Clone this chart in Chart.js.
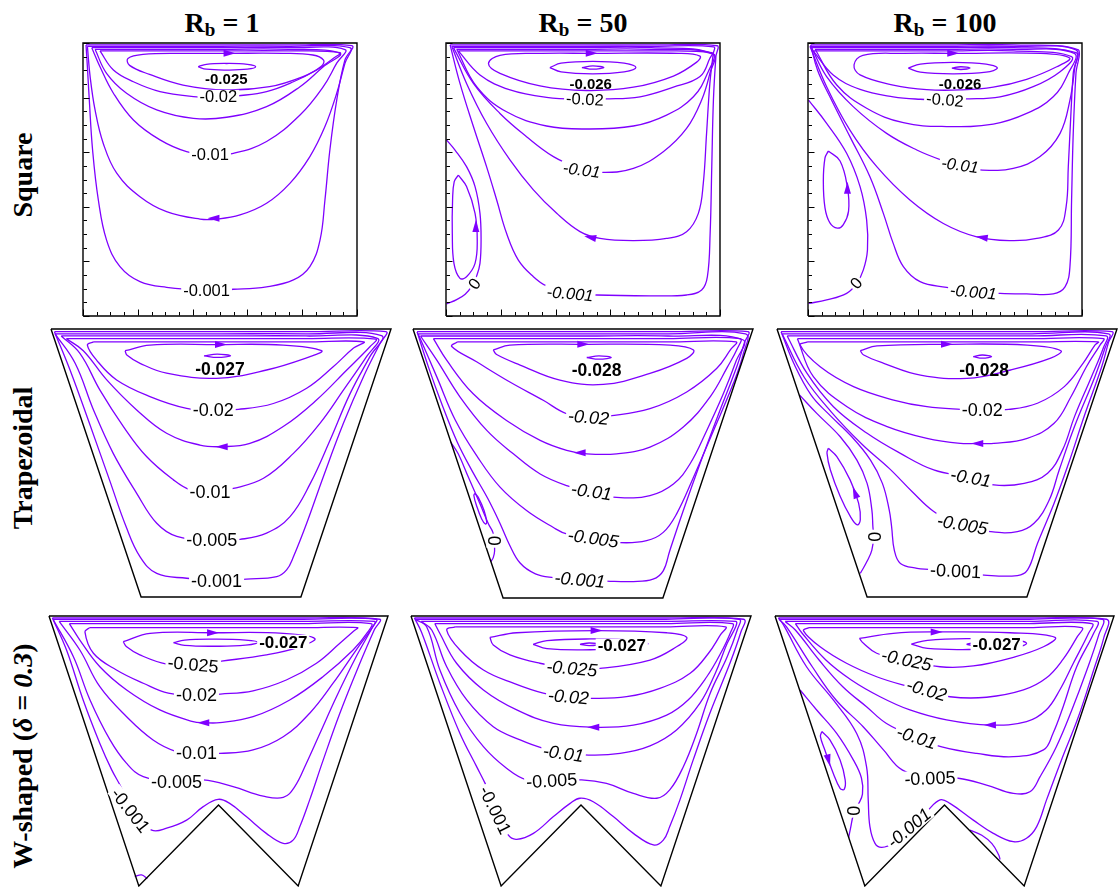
<!DOCTYPE html>
<html>
<head>
<meta charset="utf-8">
<script src="https://cdn.jsdelivr.net/npm/chart.js@4/dist/chart.umd.min.js"></script>
<style>
  html, body { margin: 0; padding: 0; background: #fff; overflow: hidden; }
  #fig { position: relative; width: 1120px; height: 887px; overflow: hidden; }
  .ttl { position: absolute; top: 9px; transform: translateX(-50%); font: bold 28px 'Liberation Serif', 'Times New Roman', serif; line-height: 28px; white-space: nowrap; color: #000; }
  .ttl span { font-size: 19px; position: relative; top: 4px; }
  .rl { position: absolute; left: 23px; font: bold 28px 'Liberation Serif', 'Times New Roman', serif; line-height: 28px; white-space: nowrap; transform: translate(-50%, -50%) rotate(-90deg); color: #000; }
</style>
</head>
<body>
<div id="fig">
  <div class="ttl" style="left:222px">R<span>b</span> = 1</div>
  <div class="ttl" style="left:583px">R<span>b</span> = 50</div>
  <div class="ttl" style="left:945px">R<span>b</span> = 100</div>
  <div class="rl" style="top:175px">Square</div>
  <div class="rl" style="top:458px">Trapezoidal</div>
  <div class="rl" style="top:756px">W-shaped (<i>δ</i> = <i>0.3</i>)</div>
</div>
<script>
// domain walls (normalised x, y with y up)
const squareWall = [[0,0],[1,0],[1,1],[0,1],[0,0]];
const trapWall = [[0,1],[1,1],[.735,0],[.265,0],[0,1]];
const wWall = [[0,1],[1,1],[.735,0],[.5,.3],[.265,0],[0,1]];
const tickMajor = [0, .2, .4, .6, .8, 1];
const tickMinor = [.05,.1,.15,.25,.3,.35,.45,.5,.55,.65,.7,.75,.85,.9,.95];

// ---- square, Rb = 1
const s1_001 = [[.011,.993],[.016,.913],[.023,.791],[.035,.608],[.056,.425],[.086,.278],[.135,.181],[.208,.126],[.305,.105],[.451,.095],[.549,.098],[.670,.107],[.768,.132],[.828,.181],[.865,.278],[.883,.425],[.901,.608],[.926,.791],[.956,.938],[.981,.99],[.75,.993],[.5,.993],[.25,.993],[.011,.993]];
const s1_005 = [[.016,.988],[.026,.877],[.044,.755],[.074,.632],[.123,.523],[.208,.437],[.305,.382],[.427,.355],[.488,.355],[.573,.370],[.670,.413],[.755,.486],[.828,.584],[.883,.694],[.926,.816],[.956,.926],[.974,.983],[.75,.988],[.5,.988],[.25,.988],[.016,.988]];
const s1_01 = [[.032,.983],[.062,.913],[.111,.816],[.184,.718],[.281,.645],[.378,.602],[.464,.590],[.549,.596],[.670,.639],[.792,.736],[.877,.840],[.926,.926],[.956,.976],[.75,.983],[.5,.983],[.25,.983],[.032,.983]];
const s1_015 = [[.044,.977],[.086,.889],[.159,.816],[.269,.755],[.403,.724],[.524,.728],[.670,.767],[.792,.840],[.877,.913],[.938,.962],[.75,.977],[.5,.977],[.25,.977],[.044,.977]];
const s1_02 = [[.062,.971],[.111,.901],[.184,.858],[.281,.822],[.415,.803],[.494,.8],[.563,.806],[.670,.822],[.768,.858],[.853,.901],[.914,.944],[.938,.965],[.75,.971],[.5,.971],[.25,.971],[.062,.971]];
const s1_023 = [[.523,.962],[.730,.962],[.839,.956],[.878,.937],[.870,.915],[.803,.877],[.681,.840],[.523,.828],[.365,.846],[.243,.885],[.170,.918],[.164,.943],[.219,.958],[.365,.962],[.523,.962]];
const s1_025 = [[.42,.913],[.45,.922],[.524,.925],[.6,.922],[.63,.913],[.6,.904],[.524,.901],[.45,.904],[.42,.913]];
const s1Labels = [['-0.025',.523,.867],['-0.02',.494,.803],['-0.01',.464,.590],['-0.001',.451,.095]];
const s1Arrows = [[.535,.962,1,0],[.476,.358,-1,0]];

// ---- square, Rb = 50
const s2_001 = [[.015,.993],[.051,.852],[.100,.694],[.148,.547],[.185,.425],[.221,.303],[.264,.205],[.319,.144],[.367,.110],[.453,.085],[.550,.077],[.745,.074],[.878,.077],[.933,.095],[.954,.144],[.964,.303],[.970,.547],[.976,.791],[.985,.950],[.990,.99],[.75,.993],[.5,.993],[.25,.993],[.015,.993]];
const s2_005 = [[.021,.988],[.075,.852],[.148,.706],[.234,.571],[.319,.462],[.404,.376],[.489,.309],[.562,.284],[.684,.276],[.805,.284],[.878,.309],[.921,.376],[.939,.486],[.951,.669],[.963,.852],[.975,.96],[.977,.986],[.75,.988],[.5,.988],[.25,.988],[.021,.988]];
const s2_01 = [[.027,.983],[.100,.852],[.197,.742],[.294,.657],[.392,.584],[.48,.545],[.562,.526],[.684,.541],[.793,.602],[.878,.687],[.933,.791],[.963,.889],[.975,.96],[.75,.983],[.5,.983],[.25,.983],[.027,.983]];
const s2_015 = [[.039,.977],[.112,.840],[.221,.748],[.367,.696],[.513,.685],[.684,.696],[.805,.736],[.903,.803],[.957,.895],[.972,.96],[.75,.977],[.5,.977],[.25,.977],[.039,.977]];
const s2_02 = [[.045,.971],[.124,.883],[.234,.828],[.367,.801],[.507,.794],[.577,.795],[.708,.803],[.830,.838],[.927,.877],[.963,.944],[.97,.965],[.75,.971],[.5,.971],[.25,.971],[.045,.971]];
const s2_023 = [[.532,.962],[.85,.962],[.927,.952],[.915,.93],[.830,.879],[.684,.838],[.513,.826],[.343,.843],[.197,.889],[.155,.925],[.197,.955],[.35,.962],[.532,.962]];
const s2_025 = [[.379,.910],[.42,.926],[.536,.933],[.65,.926],[.693,.910],[.65,.894],[.536,.887],[.42,.894],[.379,.910]];
const s2_026 = [[.496,.910],[.536,.916],[.576,.910],[.536,.904],[.496,.910]];
const s2_0 = [[.002,.645],[.033,.608],[.075,.547],[.106,.474],[.124,.376],[.128,.278],[.124,.193],[.112,.147],[.095,.110],[.070,.080],[.039,.060],[.002,.044]];
const s2_v = [[.045,.516],[.075,.474],[.106,.376],[.114,.278],[.106,.193],[.075,.144],[.051,.138],[.029,.193],[.023,.303],[.024,.425],[.030,.492],[.045,.516]];
const s2Labels = [['-0.026',.528,.849],['-0.02',.507,.794],['-0.01',.495,.535],['-0.001',.453,.082],['0',.104,.118]];
const s2Arrows = [[.532,.962,1,0],[.526,.288,-1,.2],[.109,.33,0,1]];

// ---- square, Rb = 100
const s3_001 = [[.010,.993],[.035,.9],[.080,.803],[.153,.657],[.226,.510],[.275,.376],[.311,.266],[.348,.181],[.409,.126],[.506,.105],[.603,.09],[.701,.083],[.798,.081],[.895,.081],[.938,.107],[.956,.181],[.962,.425],[.968,.669],[.978,.889],[.987,.975],[.75,.993],[.5,.993],[.25,.993],[.010,.993]];
const s3_005 = [[.007,.988],[.068,.840],[.153,.681],[.251,.547],[.372,.425],[.494,.339],[.616,.290],[.737,.276],[.835,.284],[.914,.315],[.942,.400],[.950,.547],[.959,.730],[.968,.889],[.978,.975],[.75,.988],[.5,.988],[.25,.988],[.007,.988]];
const s3_01 = [[.013,.983],[.068,.877],[.165,.767],[.287,.669],[.397,.608],[.488,.571],[.56,.55],[.628,.535],[.749,.541],[.847,.584],[.920,.669],[.956,.791],[.974,.913],[.978,.965],[.75,.983],[.5,.983],[.25,.983],[.013,.983]];
const s3_015 = [[.026,.977],[.105,.846],[.214,.761],[.348,.708],[.506,.694],[.676,.703],[.798,.742],[.895,.803],[.950,.889],[.972,.962],[.75,.977],[.5,.977],[.25,.977],[.026,.977]];
const s3_02 = [[.019,.971],[.092,.883],[.190,.830],[.311,.803],[.409,.794],[.5,.792],[.569,.795],[.701,.803],[.822,.840],[.920,.895],[.962,.95],[.75,.971],[.5,.971],[.25,.971],[.019,.971]];
const s3_023 = [[.530,.962],[.85,.962],[.955,.945],[.908,.913],[.798,.867],[.676,.838],[.555,.828],[.433,.829],[.311,.846],[.190,.883],[.168,.92],[.2,.955],[.35,.962],[.530,.962]];
const s3_025 = [[.366,.908],[.41,.923],[.529,.929],[.65,.923],[.691,.908],[.65,.893],[.529,.887],[.41,.893],[.366,.908]];
const s3_026 = [[.525,.908],[.558,.913],[.591,.908],[.558,.903],[.525,.908]];
const s3_0 = [[.002,.791],[.068,.706],[.141,.596],[.190,.474],[.214,.352],[.217,.242],[.202,.169],[.178,.12],[.141,.083],[.068,.059],[.002,.046]];
const s3_v = [[.074,.604],[.117,.568],[.144,.470],[.148,.384],[.129,.335],[.107,.322],[.080,.341],[.062,.396],[.056,.494],[.062,.579],[.074,.604]];
const s3Labels = [['-0.026',.555,.852],['-0.02',.5,.792],['-0.01',.555,.553],['-0.001',.603,.088],['0',.176,.12]];
const s3Arrows = [[.530,.962,1,0],[.634,.288,-1,.15],[.144,.47,0,1]];

// ---- trapezoidal, Rb = 1
const t1_001 = [[.01,.99],[.056,.847],[.113,.648],[.172,.437],[.221,.262],[.262,.150],[.311,.088],[.399,.07],[.487,.062],[.575,.067],[.664,.076],[.693,.101],[.713,.150],[.752,.275],[.801,.449],[.860,.648],[.919,.822],[.968,.947],[.985,.99],[.75,.99],[.5,.99],[.25,.99],[.01,.99]];
const t1_005 = [[.012,.982],[.071,.872],[.125,.698],[.183,.536],[.252,.387],[.311,.275],[.370,.226],[.477,.21],[.556,.215],[.634,.238],[.703,.300],[.762,.422],[.821,.586],[.879,.757],[.938,.897],[.972,.975],[.75,.982],[.5,.982],[.25,.982],[.012,.982]];
const t1_01 = [[.03,.974],[.085,.909],[.144,.772],[.213,.636],[.281,.524],[.360,.437],[.409,.400],[.468,.392],[.536,.405],[.625,.443],[.713,.536],[.791,.648],[.860,.772],[.928,.897],[.96,.965],[.75,.974],[.5,.974],[.25,.974],[.03,.974]];
const t1_015 = [[.045,.964],[.095,.919],[.164,.810],[.252,.698],[.340,.611],[.438,.567],[.502,.561],[.585,.573],[.683,.636],[.781,.735],[.870,.847],[.938,.934],[.955,.962],[.75,.964],[.5,.964],[.25,.964],[.045,.964]];
const t1_02 = [[.125,.952],[.107,.94],[.134,.884],[.193,.810],[.291,.748],[.399,.704],[.477,.698],[.551,.700],[.654,.722],[.752,.779],[.830,.859],[.889,.928],[.92,.952],[.75,.952],[.5,.952],[.25,.952],[.125,.952]];
const t1_025 = [[.218,.919],[.291,.94],[.487,.942],[.683,.94],[.796,.919],[.762,.897],[.634,.847],[.487,.816],[.340,.835],[.262,.872],[.223,.903],[.218,.919]];
const t1_027 = [[.45,.9],[.489,.906],[.528,.9],[.489,.894],[.45,.9]];
const t1Labels = [['-0.027',.497,.849],['-0.02',.477,.698],['-0.01',.468,.393],['-0.005',.473,.213],['-0.001',.487,.06]];
const t1Arrows = [[.5,.942,1,0],[.502,.561,-1,0]];

// ---- trapezoidal, Rb = 50
const t2_001 = [[.012,.99],[.045,.86],[.085,.72],[.13,.58],[.175,.47],[.22,.37],[.255,.28],[.283,.2],[.315,.13],[.36,.09],[.413,.076],[.491,.068],[.570,.063],[.648,.061],[.706,.070],[.736,.101],[.755,.175],[.795,.325],[.844,.499],[.903,.698],[.952,.859],[.975,.95],[.985,.99],[.75,.99],[.5,.99],[.25,.99],[.012,.99]];
const t2_005 = [[.015,.982],[.07,.822],[.125,.66],[.19,.524],[.256,.412],[.334,.325],[.413,.262],[.452,.238],[.53,.222],[.609,.206],[.687,.213],[.736,.244],[.775,.312],[.825,.449],[.884,.623],[.942,.797],[.972,.91],[.978,.982],[.75,.982],[.5,.982],[.25,.982],[.015,.982]];
const t2_01 = [[.022,.974],[.070,.884],[.138,.748],[.217,.623],[.295,.536],[.374,.461],[.452,.418],[.525,.395],[.599,.374],[.697,.381],[.766,.424],[.815,.499],[.864,.623],[.913,.760],[.950,.88],[.97,.96],[.75,.974],[.5,.974],[.25,.974],[.022,.974]];
const t2_015 = [[.06,.964],[.099,.884],[.177,.759],[.275,.660],[.374,.586],[.452,.549],[.511,.536],[.599,.536],[.697,.561],[.795,.636],[.874,.748],[.925,.859],[.955,.93],[.962,.964],[.75,.964],[.5,.964],[.25,.964],[.06,.964]];
const t2_02 = [[.13,.952],[.114,.935],[.187,.878],[.285,.803],[.383,.735],[.452,.685],[.516,.672],[.579,.677],[.697,.704],[.805,.766],[.893,.853],[.935,.925],[.95,.952],[.75,.952],[.5,.952],[.25,.952],[.13,.952]];
const t2_025 = [[.236,.922],[.285,.940],[.501,.943],[.756,.940],[.825,.922],[.805,.891],[.697,.835],[.560,.794],[.432,.810],[.315,.866],[.246,.905],[.236,.922]];
const t2_028 = [[.511,.894],[.547,.9],[.583,.894],[.547,.888],[.511,.894]];
const t2_0 = [[.111,.58],[.133,.536],[.163,.449],[.197,.350],[.222,.275],[.235,.244],[.238,.213],[.240,.175],[.236,.15],[.229,.135]];
const t2_v = [[.182,.389],[.192,.374],[.209,.325],[.217,.281],[.213,.275],[.202,.294],[.187,.343],[.179,.381],[.182,.389]];
const t2Labels = [['-0.028',.540,.847],['-0.02',.516,.672],['-0.01',.525,.396],['-0.005',.530,.222],['-0.001',.491,.068],['0',.238,.213]];
const t2Arrows = [[.501,.943,1,0],[.49,.54,-1,0]];

// ---- trapezoidal, Rb = 100
const t3_001 = [[.012,.99],[.05,.87],[.1,.754],[.15,.685],[.22,.598],[.275,.511],[.31,.424],[.33,.325],[.337,.263],[.345,.175],[.363,.125],[.412,.107],[.446,.103],[.525,.095],[.609,.082],[.707,.080],[.737,.101],[.766,.200],[.815,.35],[.858,.5],[.905,.68],[.955,.859],[.975,.95],[.985,.99],[.75,.99],[.5,.99],[.25,.99],[.012,.99]];
const t3_005 = [[.015,.982],[.08,.82],[.16,.69],[.25,.57],[.33,.48],[.40,.39],[.46,.32],[.53,.27],[.628,.244],[.707,.244],[.756,.275],[.80,.36],[.83,.474],[.875,.636],[.935,.822],[.965,.93],[.975,.982],[.75,.982],[.5,.982],[.25,.982],[.015,.982]];
const t3_01 = [[.03,.974],[.088,.835],[.166,.710],[.265,.611],[.363,.536],[.461,.474],[.569,.445],[.638,.418],[.727,.424],[.796,.462],[.84,.549],[.875,.673],[.925,.822],[.96,.93],[.968,.974],[.75,.974],[.5,.974],[.25,.974],[.03,.974]];
const t3_015 = [[.06,.964],[.107,.822],[.206,.710],[.324,.636],[.441,.592],[.540,.573],[.589,.573],[.638,.573],[.736,.592],[.815,.648],[.865,.748],[.91,.859],[.95,.94],[.96,.964],[.75,.964],[.5,.964],[.25,.964],[.06,.964]];
const t3_02 = [[.09,.952],[.068,.94],[.127,.859],[.225,.785],[.343,.735],[.441,.710],[.540,.700],[.604,.698],[.682,.700],[.766,.723],[.845,.785],[.9,.872],[.935,.94],[.945,.952],[.75,.952],[.5,.952],[.25,.952],[.09,.952]];
const t3_025 = [[.245,.919],[.294,.937],[.500,.943],[.736,.940],[.835,.919],[.805,.891],[.687,.847],[.559,.816],[.422,.828],[.314,.872],[.255,.903],[.245,.919]];
const t3_028 = [[.577,.897],[.604,.903],[.631,.897],[.604,.891],[.577,.897]];
const t3_0 = [[.066,.754],[.117,.685],[.186,.598],[.235,.511],[.265,.424],[.279,.325],[.282,.263],[.284,.225],[.279,.175],[.266,.136],[.245,.088]];
const t3_v = [[.151,.555],[.176,.524],[.215,.437],[.240,.350],[.245,.288],[.236,.269],[.216,.300],[.186,.375],[.157,.474],[.147,.537],[.151,.555]];
const t3Labels = [['-0.028',.609,.847],['-0.02',.604,.698],['-0.01',.57,.445],['-0.005',.545,.27],['-0.001',.525,.097],['0',.284,.225]];
const t3Arrows = [[.5,.943,1,0],[.589,.573,-1,0],[.229,.39,-.3,1]];

// ---- W-shaped, Rb = 1
const w1_001 = [[.01,.993],[.052,.873],[.101,.688],[.150,.528],[.185,.430],[.215,.36],[.245,.27],[.303,.207],[.347,.214],[.406,.244],[.455,.294],[.499,.321],[.533,.306],[.582,.257],[.641,.195],[.691,.158],[.720,.170],[.740,.220],[.769,.319],[.809,.467],[.858,.640],[.917,.825],[.96,.95],[.975,.988],[.75,.993],[.5,.993],[.25,.993],[.01,.993]];
const w1_005 = [[.012,.988],[.072,.849],[.121,.689],[.180,.541],[.229,.454],[.278,.405],[.376,.385],[.455,.393],[.543,.368],[.632,.333],[.691,.328],[.725,.368],[.759,.454],[.799,.565],[.848,.701],[.906,.849],[.955,.96],[.965,.988],[.75,.988],[.5,.988],[.25,.988],[.012,.988]];
const w1_01 = [[.03,.98],[.091,.874],[.150,.738],[.229,.627],[.307,.541],[.376,.498],[.435,.491],[.504,.491],[.602,.504],[.691,.553],[.769,.640],[.838,.751],[.906,.874],[.955,.96],[.96,.98],[.75,.98],[.5,.98],[.25,.98],[.03,.98]];
const w1_015 = [[.06,.972],[.091,.911],[.150,.812],[.229,.726],[.327,.652],[.425,.609],[.455,.605],[.504,.605],[.602,.627],[.710,.689],[.808,.775],[.897,.874],[.94,.94],[.95,.972],[.75,.972],[.5,.972],[.25,.972],[.06,.972]];
const w1_02 = [[.12,.957],[.106,.941],[.131,.862],[.199,.800],[.278,.751],[.352,.714],[.435,.707],[.506,.711],[.602,.723],[.700,.763],[.789,.825],[.858,.899],[.9,.945],[.91,.957],[.75,.957],[.5,.957],[.25,.957],[.12,.957]];
const w1_025 = [[.219,.905],[.298,.936],[.484,.938],[.691,.936],[.784,.917],[.740,.886],[.641,.856],[.509,.833],[.425,.82],[.347,.822],[.268,.856],[.229,.886],[.219,.905]];
const w1_027 = [[.367,.901],[.40,.911],[.492,.914],[.58,.911],[.617,.903],[.58,.892],[.492,.888],[.40,.891],[.367,.901]];
const w1_c = [[.253,.035],[.273,.041],[.290,.027]];
const w1Labels = [['-0.027',.691,.904],['-0.025',.425,.82],['-0.02',.435,.707],['-0.01',.435,.491],['-0.005',.376,.385],['-0.001',.24,.28]];
const w1Arrows = [[.484,.938,1,0],[.455,.605,-1,0]];

// ---- W-shaped, Rb = 50
const w2_001 = [[.01,.993],[.031,.94],[.085,.751],[.144,.565],[.193,.442],[.218,.380],[.25,.29],[.286,.189],[.311,.173],[.360,.195],[.419,.257],[.468,.306],[.497,.325],[.536,.312],[.595,.257],[.654,.195],[.713,.152],[.742,.170],[.761,.220],[.791,.319],[.830,.467],[.879,.640],[.938,.825],[.97,.94],[.978,.988],[.75,.993],[.5,.993],[.25,.993],[.01,.993]];
const w2_005 = [[.012,.988],[.046,.96],[.085,.800],[.144,.640],[.213,.516],[.281,.436],[.340,.393],[.414,.388],[.502,.393],[.575,.380],[.654,.343],[.723,.325],[.761,.356],[.801,.442],[.84,.565],[.88,.714],[.93,.849],[.96,.95],[.965,.988],[.75,.988],[.5,.988],[.25,.988],[.012,.988]];
const w2_01 = [[.03,.98],[.061,.948],[.105,.812],[.164,.689],[.242,.590],[.321,.541],[.389,.510],[.448,.497],[.522,.485],[.615,.491],[.703,.519],[.781,.578],[.850,.677],[.895,.788],[.93,.899],[.955,.96],[.955,.98],[.75,.98],[.5,.98],[.25,.98],[.03,.98]];
const w2_015 = [[.07,.972],[.085,.935],[.134,.825],[.213,.726],[.311,.652],[.419,.602],[.536,.588],[.654,.596],[.752,.633],[.815,.689],[.87,.775],[.91,.86],[.94,.94],[.945,.972],[.75,.972],[.5,.972],[.25,.972],[.07,.972]];
const w2_02 = [[.13,.96],[.105,.948],[.144,.874],[.213,.800],[.301,.751],[.389,.714],[.463,.70],[.531,.695],[.634,.701],[.732,.732],[.821,.788],[.875,.862],[.91,.93],[.925,.96],[.75,.96],[.5,.96],[.25,.96],[.13,.96]];
const w2_025 = [[.232,.921],[.311,.938],[.546,.946],[.752,.938],[.811,.921],[.781,.886],[.703,.837],[.556,.806],[.473,.806],[.379,.825],[.291,.856],[.242,.893],[.232,.921]];
const w2_027 = [[.359,.895],[.40,.909],[.528,.915],[.65,.911],[.697,.897],[.65,.881],[.528,.875],[.40,.879],[.359,.895]];
const w2_0275 = [[.497,.895],[.524,.9],[.551,.895],[.524,.89],[.497,.895]];
const w2Labels = [['-0.027',.62,.89],['-0.025',.473,.806],['-0.02',.463,.701],['-0.01',.448,.491],['-0.005',.414,.39],['-0.001',.247,.281]];
const w2Arrows = [[.546,.946,1,0],[.536,.588,-1,0]];

// ---- W-shaped, Rb = 100
const w3_001 = [[.01,.993],[.025,.967],[.093,.812],[.172,.689],[.241,.565],[.270,.442],[.275,.319],[.280,.220],[.295,.158],[.315,.143],[.35,.16],[.395,.215],[.447,.275],[.487,.319],[.516,.306],[.585,.244],[.644,.195],[.703,.164],[.742,.177],[.772,.220],[.801,.319],[.845,.467],[.895,.627],[.94,.8],[.97,.92],[.978,.988],[.75,.993],[.5,.993],[.25,.993],[.01,.993]];
const w3_005 = [[.012,.988],[.034,.96],[.11,.812],[.18,.689],[.26,.59],[.32,.504],[.375,.43],[.457,.399],[.541,.399],[.624,.374],[.703,.343],[.752,.349],[.782,.405],[.83,.516],[.875,.65],[.92,.8],[.955,.93],[.965,.988],[.75,.988],[.5,.988],[.25,.988],[.012,.988]];
const w3_01 = [[.03,.98],[.06,.948],[.13,.837],[.2,.738],[.27,.664],[.329,.602],[.418,.55],[.492,.515],[.595,.491],[.703,.479],[.792,.504],[.82,.565],[.85,.664],[.89,.812],[.94,.936],[.95,.98],[.75,.98],[.5,.98],[.25,.98],[.03,.98]];
const w3_015 = [[.06,.972],[.08,.936],[.15,.837],[.225,.763],[.310,.701],[.398,.652],[.506,.615],[.634,.596],[.742,.609],[.80,.652],[.84,.726],[.88,.825],[.925,.936],[.935,.972],[.75,.972],[.5,.972],[.25,.972],[.06,.972]];
const w3_02 = [[.1,.957],[.084,.945],[.133,.886],[.211,.825],[.300,.775],[.379,.744],[.447,.726],[.516,.701],[.624,.699],[.733,.726],[.8,.77],[.85,.84],[.89,.92],[.905,.957],[.75,.957],[.5,.957],[.25,.957],[.1,.957]];
const w3_025 = [[.249,.917],[.349,.936],[.477,.941],[.693,.938],[.826,.921],[.792,.886],[.703,.847],[.585,.815],[.487,.812],[.388,.837],[.300,.862],[.261,.899],[.249,.917]];
const w3_027 = [[.402,.896],[.45,.91],[.572,.916],[.7,.912],[.742,.898],[.7,.882],[.572,.876],[.45,.88],[.402,.896]];
const w3_0275 = [[.565,.895],[.585,.9],[.605,.895],[.585,.89],[.565,.895]];
const w3_0 = [[.074,.726],[.123,.652],[.182,.565],[.231,.467],[.255,.40],[.258,.34],[.245,.3],[.231,.262],[.223,.215],[.217,.178]];
const w3_v = [[.138,.572],[.162,.541],[.192,.467],[.207,.393],[.204,.358],[.192,.362],[.172,.417],[.147,.504],[.134,.553],[.138,.572]];
const w3_c = [[.575,.207],[.61,.188],[.64,.157],[.66,.115],[.664,.098]];
const w3Labels = [['-0.027',.654,.895],['-0.025',.388,.837],['-0.02',.447,.726],['-0.01',.418,.55],['-0.005',.457,.399],['-0.001',.395,.215],['0',.229,.279]];
const w3Arrows = [[.477,.941,1,0],[.634,.596,-1,0],[.158,.465,.2,-1]];

const PURPLE = '#7f00ff';
const M = 10;
const FONT = "'Liberation Sans', Arial, sans-serif";

// panel layout: box = [left, top, width, height] in page px; label styles = [rotation deg, kind]
const panels = [
  { box: [83, 43, 274, 273], wall: squareWall, ticks: true, size: 16.5, bsize: 15,
    lines: [s1_001, s1_005, s1_01, s1_015, s1_02, s1_023, s1_025],
    labels: s1Labels, styles: [[0,'b'],[0,'n'],[0,'n'],[0,'n']], arrows: s1Arrows },
  { box: [446, 43, 274, 273], wall: squareWall, ticks: true, size: 16.5, bsize: 15,
    lines: [s2_001, s2_005, s2_01, s2_015, s2_02, s2_023, s2_025, s2_026, s2_0, s2_v],
    labels: s2Labels, styles: [[0,'b'],[3,'n'],[8,'i'],[5,'i'],[-54,'n']], arrows: s2Arrows },
  { box: [808, 43, 274, 273], wall: squareWall, ticks: true, size: 16.5, bsize: 15,
    lines: [s3_001, s3_005, s3_01, s3_015, s3_02, s3_023, s3_025, s3_026, s3_0, s3_v],
    labels: s3Labels, styles: [[0,'b'],[5,'n'],[8,'i'],[5,'i'],[-50,'n']], arrows: s3Arrows },
  { box: [51, 329, 340, 268], wall: trapWall, size: 18, bsize: 17.5,
    lines: [t1_001, t1_005, t1_01, t1_015, t1_02, t1_025, t1_027],
    labels: t1Labels, styles: [[0,'b'],[0,'n'],[0,'n'],[0,'n'],[0,'n']], arrows: t1Arrows },
  { box: [413, 329, 340, 269], wall: trapWall, size: 18, bsize: 17.5,
    lines: [t2_001, t2_005, t2_01, t2_015, t2_02, t2_025, t2_028, t2_0, t2_v],
    labels: t2Labels, styles: [[0,'b'],[5,'i'],[8,'i'],[8,'i'],[5,'i'],[90,'n']], arrows: t2Arrows },
  { box: [777, 329, 340, 268], wall: trapWall, size: 18, bsize: 17.5,
    lines: [t3_001, t3_005, t3_01, t3_015, t3_02, t3_025, t3_028, t3_0, t3_v],
    labels: t3Labels, styles: [[0,'b'],[0,'n'],[10,'i'],[10,'i'],[3,'n'],[90,'n']], arrows: t3Arrows },
  { box: [49, 616, 339, 270], wall: wWall, size: 18, bsize: 17, bbg: true,
    lines: [w1_001, w1_005, w1_01, w1_015, w1_02, w1_025, w1_027, w1_c],
    labels: w1Labels, styles: [[0,'b'],[5,'n'],[0,'n'],[0,'n'],[0,'n'],[52,'n']], arrows: w1Arrows },
  { box: [411, 616, 340, 270], wall: wWall, size: 18, bsize: 17, bbg: true,
    lines: [w2_001, w2_005, w2_01, w2_015, w2_02, w2_025, w2_027, w2_0275],
    labels: w2Labels, styles: [[0,'b'],[5,'i'],[5,'i'],[8,'i'],[-3,'n'],[64,'n']], arrows: w2Arrows },
  { box: [775, 616, 339, 270], wall: wWall, size: 18, bsize: 17, bbg: true,
    lines: [w3_001, w3_005, w3_01, w3_015, w3_02, w3_025, w3_027, w3_0275, w3_0, w3_v, w3_c],
    labels: w3Labels, styles: [[0,'b'],[12,'i'],[16,'i'],[18,'i'],[-2,'n'],[-40,'i'],[90,'n']], arrows: w3Arrows }
];

function toPts(a) { return a.map(p => ({ x: p[0], y: p[1] })); }

function makeMarks(p) {
  return {
    id: 'marks',
    afterDatasetsDraw(chart) {
      const ctx = chart.ctx, sx = chart.scales.x, sy = chart.scales.y;
      const X = v => sx.getPixelForValue(v), Y = v => sy.getPixelForValue(v);

      if (p.ticks) {
        ctx.save();
        ctx.strokeStyle = '#000';
        ctx.lineWidth = 1;
        ctx.beginPath();
        const x0 = Math.round(X(0)) + 0.5, y0 = Math.round(Y(0)) - 0.5;
        const tick = (v, len) => {
          const px = Math.round(X(v)) + 0.5, py = Math.round(Y(v)) + 0.5;
          ctx.moveTo(px, y0); ctx.lineTo(px, y0 - len);
          ctx.moveTo(x0, py); ctx.lineTo(x0 + len, py);
        };
        tickMajor.forEach(v => tick(v, 6));
        tickMinor.forEach(v => tick(v, 3.5));
        ctx.stroke();
        ctx.restore();
      }

      ctx.save();
      ctx.fillStyle = PURPLE;
      p.arrows.forEach(a => {
        const px = X(a[0]), py = Y(a[1]);
        const ang = Math.atan2(Y(a[1] + a[3] * 0.01) - py, X(a[0] + a[2] * 0.01) - px);
        ctx.save();
        ctx.translate(px, py);
        ctx.rotate(ang);
        ctx.beginPath();
        ctx.moveTo(6, 0);
        ctx.lineTo(-6, -3.5);
        ctx.lineTo(-6, 3.5);
        ctx.closePath();
        ctx.fill();
        ctx.restore();
      });
      ctx.restore();

      p.labels.forEach((l, i) => {
        const st = p.styles[i] || [0, 'n'];
        const bold = st[1] === 'b';
        const size = bold ? p.bsize : p.size;
        ctx.save();
        ctx.translate(X(l[1]), Y(l[2]));
        ctx.rotate(st[0] * Math.PI / 180);
        ctx.font = (st[1] === 'i' ? 'italic ' : '') + (bold ? 'bold ' : '') + size + 'px ' + FONT;
        const w = ctx.measureText(l[0]).width;
        if (!bold || p.bbg) {
          ctx.fillStyle = '#fff';
          ctx.fillRect(-w / 2 - 2, -size * 0.42, w + 4, size * 0.84);
        }
        ctx.fillStyle = '#000';
        ctx.textAlign = 'center';
        ctx.textBaseline = 'middle';
        ctx.fillText(l[0], 0, 1);
        ctx.restore();
      });
    }
  };
}

const fig = document.getElementById('fig');
panels.forEach(p => {
  const W = p.box[2] + 2 * M, H = p.box[3] + 2 * M;
  const cv = document.createElement('canvas');
  cv.width = W;
  cv.height = H;
  cv.style.cssText = `position:absolute;left:${p.box[0] - M}px;top:${p.box[1] - M}px;width:${W}px;height:${H}px;`;
  fig.appendChild(cv);

  const datasets = [{
    data: toPts(p.wall), showLine: true, borderColor: '#000', borderWidth: 1.4,
    tension: 0, pointRadius: 0, clip: false, borderJoinStyle: 'miter'
  }].concat(p.lines.map(l => ({
    data: toPts(l), showLine: true, borderColor: PURPLE, borderWidth: 1.3,
    tension: 0.4, pointRadius: 0, clip: false
  })));

  new Chart(cv, {
    type: 'scatter',
    data: { datasets },
    options: {
      responsive: false,
      animation: false,
      devicePixelRatio: 1,
      layout: { padding: M },
      events: [],
      scales: {
        x: { type: 'linear', min: 0, max: 1, display: false },
        y: { type: 'linear', min: 0, max: 1, display: false }
      },
      plugins: { legend: { display: false }, tooltip: { enabled: false } }
    },
    plugins: [makeMarks(p)]
  });
});
</script>
</body>
</html>
